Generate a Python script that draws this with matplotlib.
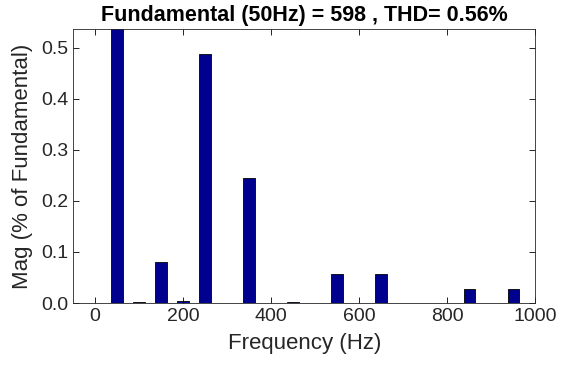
import numpy as np
import matplotlib
matplotlib.use('Agg')
import matplotlib.pyplot as plt

# harmonic frequencies (Hz) and magnitudes (% of fundamental)
freqs = [0, 50, 100, 150, 200, 250, 300, 350, 400, 450, 500,
         550, 600, 650, 700, 750, 800, 850, 900, 950, 1000]
mags = [0.0, 100.0, 0.002, 0.080, 0.003, 0.488, 0.0, 0.245, 0.0, 0.002, 0.0,
        0.057, 0.0, 0.057, 0.0, 0.0, 0.0, 0.028, 0.0, 0.028, 0.0]

plt.rcParams['font.family'] = ['Liberation Sans', 'DejaVu Sans']

fig = plt.figure(figsize=(5.67, 3.70), dpi=100)
ax = fig.add_axes([0.129, 0.181, 0.815, 0.741])

ax.bar(freqs, mags, width=26, color='#00008f', edgecolor='black', linewidth=0.6)

ax.set_xlim(-50, 1000)
ax.set_ylim(0, 0.537)
ax.set_xticks([0, 200, 400, 600, 800, 1000])
ax.set_yticks([0, 0.1, 0.2, 0.3, 0.4, 0.5])
ax.tick_params(direction='in', top=True, right=True, labelsize=14,
               labelcolor='#262626', length=4, width=0.6)
for s in ax.spines.values():
    s.set_linewidth(0.6)
    s.set_color('#262626')

ax.set_xlabel('Frequency (Hz)', fontsize=16, color='#262626', labelpad=6)
ax.set_ylabel('Mag (% of Fundamental)', fontsize=16, color='#262626', labelpad=6)
ax.set_title('Fundamental (50Hz) = 598 , THD= 0.56%', fontsize=15.5,
             fontweight='bold', pad=5.5)

fig.savefig('out.png', dpi=100)
